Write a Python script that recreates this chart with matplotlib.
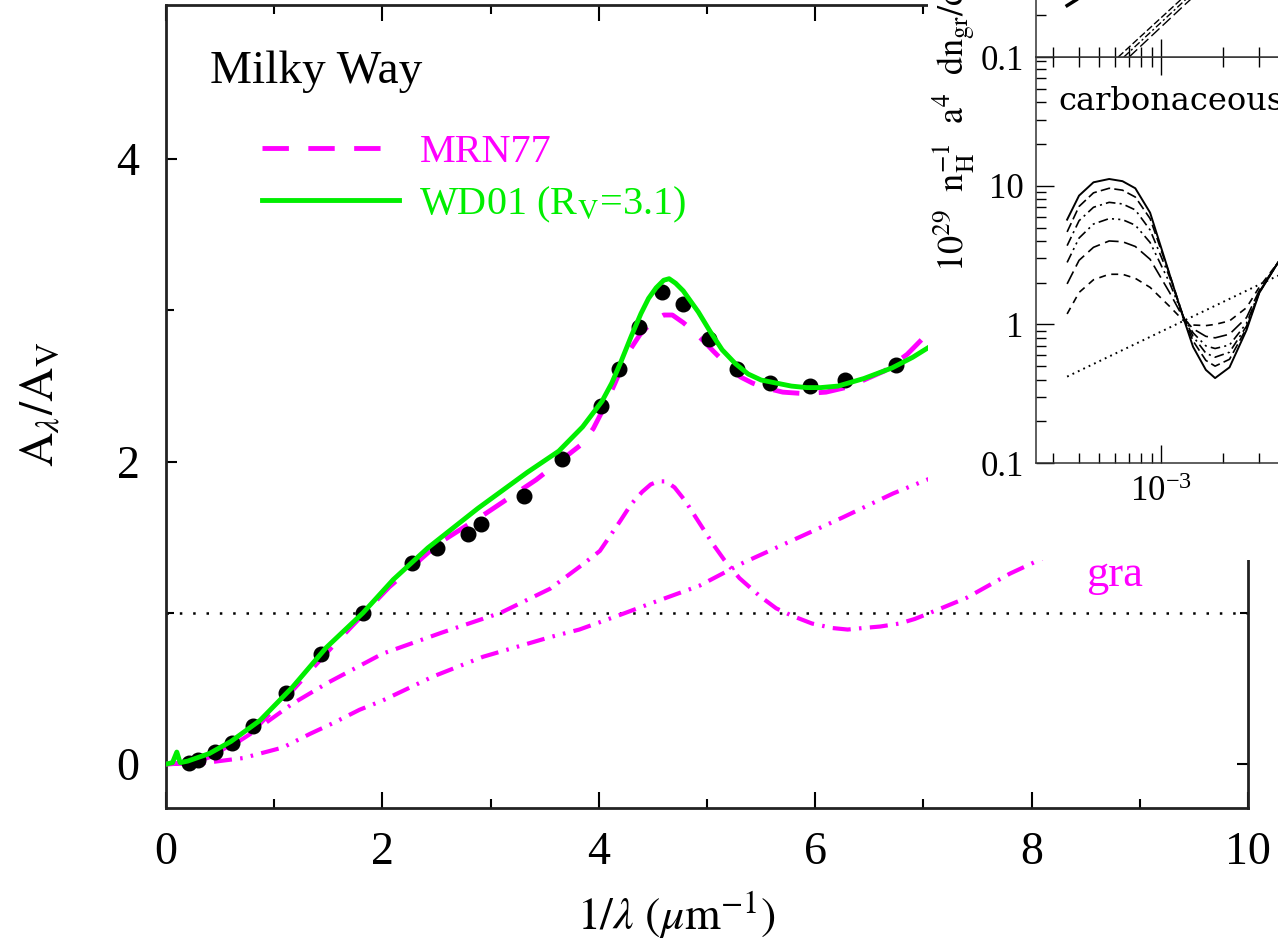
import matplotlib
matplotlib.use("Agg")
import matplotlib.pyplot as plt
from matplotlib.ticker import FuncFormatter

plt.rcParams["font.family"] = ["Liberation Serif", "DejaVu Serif"]
plt.rcParams["mathtext.fontset"] = "stix"
plt.rcParams["lines.scale_dashes"] = False

MAG = "#ff00ff"
GREEN = "#00ee00"

# observed Milky Way extinction (black dots)
obs_x = [0.21, 0.30, 0.45, 0.61, 0.80, 1.11, 1.43, 1.82, 2.27, 2.50, 2.79, 2.91, 3.31,
         3.66, 4.02, 4.19, 4.37, 4.58, 4.78, 5.02, 5.28, 5.58, 5.95, 6.28, 6.75]
obs_y = [0.01, 0.03, 0.08, 0.14, 0.25, 0.47, 0.73, 1.00, 1.33, 1.43, 1.52, 1.59, 1.77,
         2.02, 2.37, 2.61, 2.89, 3.12, 3.04, 2.81, 2.61, 2.52, 2.50, 2.54, 2.64]

# WD01 model (R_V = 3.1)
wd_x = [0.0, 0.06, 0.10, 0.13, 0.2, 0.4, 0.6, 0.87, 1.17, 1.48, 1.82, 2.1, 2.42, 2.88,
        3.34, 3.63, 3.85, 4.03, 4.12, 4.21, 4.30, 4.39, 4.46, 4.53, 4.60, 4.65, 4.71,
        4.78, 4.85, 4.92, 5.03, 5.14, 5.26, 5.38, 5.50, 5.64, 5.78, 5.92, 6.05, 6.21,
        6.45, 6.71, 6.90, 7.08, 7.3]
wd_y = [0.0, 0.01, 0.08, 0.01, 0.02, 0.07, 0.15, 0.29, 0.51, 0.77, 1.00, 1.22, 1.43, 1.69,
        1.93, 2.07, 2.23, 2.40, 2.52, 2.67, 2.83, 2.98, 3.08, 3.15, 3.20, 3.21, 3.18,
        3.13, 3.06, 2.99, 2.86, 2.74, 2.65, 2.58, 2.54, 2.52, 2.50, 2.49, 2.49, 2.50,
        2.55, 2.62, 2.69, 2.77, 2.85]

# MRN77 model: total, graphite, silicate
mrn_x = [0.0, 0.2, 0.4, 0.6, 0.87, 1.17, 1.5, 1.82, 2.06, 2.52, 2.96, 3.42, 3.85, 3.95,
         4.05, 4.15, 4.27, 4.38, 4.50, 4.60, 4.68, 4.78, 4.88, 4.98, 5.06, 5.20, 5.31,
         5.42, 5.53, 5.70, 5.90, 6.10, 6.28, 6.45, 6.64, 6.85, 7.07, 7.3]
mrn_y = [0.0, 0.01, 0.05, 0.13, 0.27, 0.49, 0.75, 0.99, 1.17, 1.46, 1.66, 1.88, 2.12, 2.22,
         2.36, 2.52, 2.72, 2.84, 2.93, 2.97, 2.97, 2.92, 2.86, 2.79, 2.73, 2.63, 2.56,
         2.52, 2.49, 2.46, 2.45, 2.46, 2.49, 2.54, 2.60, 2.71, 2.87, 3.0]

gra_x = [0.0, 0.3, 0.5, 0.78, 1.17, 1.5, 2.0, 2.55, 3.09, 3.55, 3.85, 4.01, 4.2, 4.3,
         4.4, 4.48, 4.55, 4.62, 4.70, 4.80, 4.88, 4.97, 5.06, 5.16, 5.30, 5.49, 5.64,
         5.79, 5.97, 6.16, 6.30, 6.44, 6.60, 6.78, 6.92, 7.06, 7.40, 7.80, 8.07, 8.3]
gra_y = [0.0, 0.02, 0.07, 0.20, 0.40, 0.54, 0.73, 0.87, 1.00, 1.16, 1.32, 1.41, 1.61, 1.72,
         1.80, 1.85, 1.87, 1.87, 1.83, 1.74, 1.65, 1.55, 1.45, 1.35, 1.23, 1.11, 1.03,
         0.98, 0.93, 0.90, 0.89, 0.90, 0.91, 0.93, 0.96, 1.00, 1.10, 1.26, 1.35, 1.45]

sil_x = [0.0, 0.38, 0.71, 1.08, 1.33, 1.54, 1.79, 2.0, 2.47, 2.93, 3.55, 3.82, 4.17, 4.47,
         4.93, 5.33, 5.79, 6.25, 6.72, 7.03, 7.3]
sil_y = [0.0, 0.01, 0.04, 0.11, 0.20, 0.27, 0.36, 0.42, 0.58, 0.71, 0.84, 0.89, 0.98, 1.06,
         1.18, 1.33, 1.48, 1.63, 1.79, 1.88, 1.95]

# inset: carbonaceous size distributions (a in um)
car_a = [3.5e-4, 4.0e-4, 4.7e-4, 5.6e-4, 6.5e-4, 7.5e-4, 8.85e-4, 1.1e-3, 1.28e-3,
         1.43e-3, 1.65e-3, 1.83e-3, 2.15e-3, 2.6e-3, 3.0e-3, 3.7e-3, 4.5e-3]
car_1 = [5.7, 8.5, 10.6, 11.2, 10.8, 9.6, 6.4, 2.3, 1.13, 0.69, 0.47, 0.41, 0.49, 0.91, 1.69, 2.8, 3.9]
car_2 = [4.65, 7.1, 8.9, 9.6, 9.3, 8.3, 5.8, 2.3, 1.15, 0.76, 0.55, 0.50, 0.56, 0.94, 1.70, 2.8, 3.9]
car_3 = [3.7, 5.6, 7.0, 7.6, 7.4, 6.7, 4.8, 2.2, 1.15, 0.82, 0.62, 0.58, 0.63, 0.97, 1.71, 2.8, 3.9]
car_4 = [2.8, 4.2, 5.3, 5.8, 5.7, 5.2, 3.9, 2.0, 1.15, 0.87, 0.70, 0.67, 0.71, 1.02, 1.72, 2.8, 3.9]
car_5 = [1.96, 2.9, 3.6, 4.0, 3.95, 3.65, 2.95, 1.7, 1.12, 0.93, 0.82, 0.80, 0.85, 1.12, 1.76, 2.8, 3.9]
car_6 = [1.19, 1.7, 2.1, 2.3, 2.3, 2.15, 1.85, 1.35, 1.07, 0.99, 0.98, 1.0, 1.06, 1.32, 1.86, 2.8, 3.9]
mrn_a = [3.5e-4, 3.7e-3]
mrn_dist = [0.42, 2.25]

# inset upper panel (only its bottom edge is in frame)
up_a0 = [3.5e-4, 3.9e-4, 4.5e-4]
up_y0 = [0.235, 0.26, 0.31]
up_a1 = [6.2e-4, 1.25e-3, 1.6e-3]
up_y1 = [0.10, 0.26, 0.36]
up_a2 = [6.6e-4, 1.30e-3, 1.65e-3]
up_y2 = [0.10, 0.255, 0.35]
up_a3 = [7.0e-4, 1.33e-3, 1.7e-3]
up_y3 = [0.10, 0.245, 0.34]

W, H = 1278, 951
fig = plt.figure(figsize=(W / 100, H / 100), dpi=100)
ax = fig.add_axes([166 / W, 1 - 808 / H, 1082 / W, 803 / H])

ax.axhline(1.0, color="k", lw=1.8, ls=(0, (1.8, 7.8)), zorder=1)
ax.plot(gra_x, gra_y, color=MAG, lw=3, ls=(0, (13, 6, 1.8, 6)), zorder=2)
ax.plot(sil_x, sil_y, color=MAG, lw=3, ls=(0, (13, 6, 1.8, 6, 1.8, 6)), zorder=2)
l_mrn, = ax.plot(mrn_x, mrn_y, color=MAG, lw=3.5, ls=(0, (19, 14)), zorder=3, label="MRN77")
ax.plot(obs_x, obs_y, "o", color="k", ms=10.5, zorder=4)
l_wd, = ax.plot(wd_x, wd_y, color=GREEN, lw=3.5, zorder=5, label=r"WD01 (R$_\mathrm{V}$=3.1)")

ax.text(0.0407, 0.9166, "Milky Way", transform=ax.transAxes, fontsize=34, va="center", ha="left")
ax.text(8.77, 1.25, "gra", color=MAG, fontsize=32, ha="center", va="center")

ax.legend(handles=[l_mrn, l_wd], loc="upper left", bbox_to_anchor=(0.089, 0.84), frameon=False,
          fontsize=29, handlelength=3.4, handletextpad=0.5, labelspacing=0.35, borderpad=0,
          borderaxespad=0, labelcolor="linecolor")

ax.set_xlim(0, 10)
ax.set_ylim(-0.29, 5.02)
ax.set_xticks(range(0, 11, 2))
ax.set_xticks(range(1, 10, 2), minor=True)
ax.set_yticks([0, 2, 4])
ax.set_yticks([1, 3], minor=True)
ax.tick_params(which="both", direction="in", top=True, right=True, width=1.5, labelsize=33)
ax.tick_params(axis="x", which="major", length=11.5, pad=17)
ax.tick_params(axis="x", which="minor", length=6.5)
ax.tick_params(axis="y", which="major", length=8, pad=19)
ax.tick_params(axis="y", which="minor", length=6)
for s in ax.spines.values():
    s.set_linewidth(2)
    s.set_color("#222222")

ax.set_xlabel(r"$1/\lambda\ (\mu\mathrm{m}^{-1})$", fontsize=33)
ax.xaxis.label.set_va("center")
ax.xaxis.set_label_coords(0.472, -0.133)
ax.set_ylabel(r"$\mathrm{A}_{\lambda}/\mathrm{A}_{\mathrm{V}}$", fontsize=34)
ax.yaxis.label.set_va("center")
ax.yaxis.set_label_coords(-0.1155, 0.502)

# inset panel pasted over the upper right corner
bg = fig.add_axes([928 / W, 1 - 560 / H, 1 - 928 / W, 560 / H])
bg.set_facecolor("white")
bg.set_xticks([])
bg.set_yticks([])
for s in bg.spines.values():
    s.set_visible(False)
bg.set_zorder(3)

fmt = FuncFormatter(lambda v, _: "{:g}".format(v))
lo = fig.add_axes([1036 / W, 1 - 463 / H, 743 / W, 406 / H])
up = fig.add_axes([1036 / W, 1 - 57 / H, 743 / W, 406 / H])
for a in (lo, up):
    a.set_zorder(4)
    a.set_xscale("log")
    a.set_yscale("log")
    a.set_xlim(10 ** -3.607, 1.0)
    a.set_ylim(0.1, 85)
    a.set_xticks([1e-3])
    a.tick_params(which="both", direction="in", top=True, right=True, width=1, labelsize=25, pad=9)
    a.tick_params(which="major", length=13)
    a.tick_params(which="minor", length=7)
    for s in a.spines.values():
        s.set_linewidth(1.1)
        s.set_color("#333333")
lo.set_yticks([0.1, 1, 10])
up.set_yticks([0.1])
lo.yaxis.set_major_formatter(fmt)
up.yaxis.set_major_formatter(fmt)
up.tick_params(labelbottom=False)

lo.plot(car_a, car_1, color="k", lw=1.4)
lo.plot(car_a, car_2, color="k", lw=1.2, ls=(0, (7, 3)))
lo.plot(car_a, car_3, color="k", lw=1.2, ls=(0, (7, 3, 1.5, 3)))
lo.plot(car_a, car_4, color="k", lw=1.2, ls=(0, (7, 3, 1.5, 3, 1.5, 3)))
lo.plot(car_a, car_5, color="k", lw=1.2, ls=(0, (10, 4)))
lo.plot(car_a, car_6, color="k", lw=1.2, ls=(0, (5, 4)))
lo.plot(mrn_a, mrn_dist, color="k", lw=1.4, ls=(0, (1.3, 3)))
lo.text(1058 / W, 1 - 101 / H, "carbonaceous", transform=fig.transFigure, fontsize=23,
        family="DejaVu Serif", va="center", ha="left")

up.plot(up_a0, up_y0, color="k", lw=2.5)
up.plot(up_a1, up_y1, color="k", lw=1.0, ls=(0, (5, 2)))
up.plot(up_a2, up_y2, color="k", lw=1.0, ls=(0, (5, 2, 1.5, 2)))
up.plot(up_a3, up_y3, color="k", lw=1.0, ls=(0, (8, 3)))

fig.text(954 / W, 1 - 272 / H, r"$10^{29}\ \ \mathrm{n_H^{-1}\ \ a^4\ \ dn_{gr}/da}$", rotation=90,
         ha="center", va="bottom", fontsize=26, zorder=10)

fig.savefig("out.png", dpi=100)
